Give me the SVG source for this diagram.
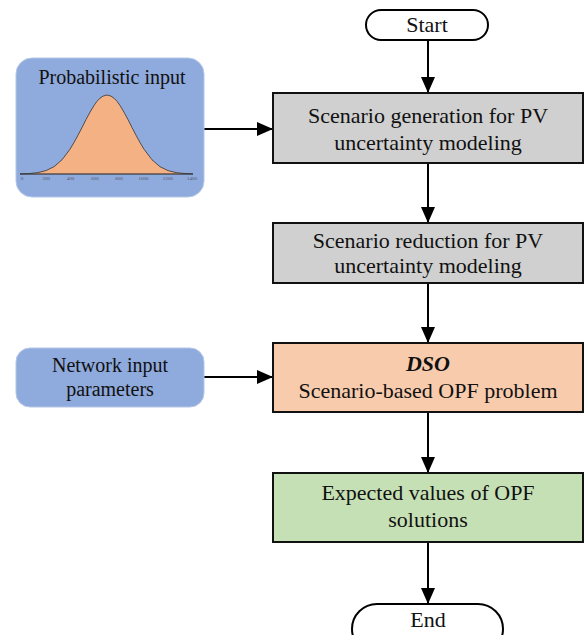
<svg xmlns="http://www.w3.org/2000/svg" width="584" height="635" viewBox="0 0 584 635">
<defs>
<marker id="ah" markerWidth="16" markerHeight="14" refX="16" refY="7" orient="auto" markerUnits="userSpaceOnUse">
<path d="M0,0 L16,7 L0,14 Z" fill="#000"/>
</marker>
<style>
.t{font-family:"Liberation Serif","Times New Roman",serif;font-size:22px;fill:#111;text-anchor:middle}
.s{font-family:"Liberation Serif","Times New Roman",serif;font-size:20px;fill:#111;text-anchor:middle}
.ax{font-family:"Liberation Serif",serif;font-size:5px;fill:#556;text-anchor:middle}
.box{stroke:#111;stroke-width:2}
.pill{fill:#fff;stroke:#000;stroke-width:2}
.blue{fill:#8faadc;stroke:#b4c7e7;stroke-width:1}
.c{fill:none;stroke:#000;stroke-width:2;marker-end:url(#ah)}
</style>
</defs>
<rect width="584" height="635" fill="#fff"/>
<g id="connectors">
<path class="c" d="M428,40 V93"/>
<path class="c" d="M428,163 V223"/>
<path class="c" d="M428,283 V343"/>
<path class="c" d="M428,412 V473"/>
<path class="c" d="M428,542 V604"/>
<path class="c" d="M204,129 H273"/>
<path class="c" d="M204,377 H273"/>
</g>
<g id="start">
<rect class="pill" x="366" y="10" width="122" height="30" rx="15"/>
<text class="t" x="427" y="32">Start</text>
</g>
<g id="prob-input">
<rect class="blue" x="16" y="58" width="188" height="139" rx="16"/>
<text class="s" x="112" y="84">Probabilistic input</text>
<path d="M20,174 L22,173.8 L30,173.5 L38,172.6 L46,170.6 L54,166.7 L62,159.8 L70,149.2 L74,142.5 L78,135.2 L82,127.5 L86,119.6 L90,112.2 L94,105.5 L97,101.3 L100,98.2 L103,96.1 L107,95 L111,96.1 L114,98.2 L117,101.3 L120,105.5 L124,112.2 L128,119.6 L132,127.5 L136,135.2 L140,142.5 L144,149.2 L152,159.8 L160,166.7 L168,170.6 L176,172.6 L184,173.5 L192,173.8 L193,174 Z" fill="#f4b183" stroke="#333" stroke-width="0.8" stroke-linejoin="round"/>
<line x1="20" y1="174" x2="193" y2="174" stroke="#333" stroke-width="0.6"/>
<text class="ax" x="22" y="180">0</text>
<text class="ax" x="46.3" y="180">200</text>
<text class="ax" x="70.6" y="180">400</text>
<text class="ax" x="94.9" y="180">600</text>
<text class="ax" x="119.1" y="180">800</text>
<text class="ax" x="143.4" y="180">1000</text>
<text class="ax" x="167.7" y="180">1200</text>
<text class="ax" x="192" y="180">1400</text>
</g>
<g id="scen-gen">
<rect class="box" x="273" y="93" width="310" height="70" fill="#d0d0d0"/>
<text class="t" x="428" y="123">Scenario generation for PV</text>
<text class="t" x="428" y="150">uncertainty modeling</text>
</g>
<g id="scen-red">
<rect class="box" x="273" y="223" width="310" height="60" fill="#d0d0d0"/>
<text class="t" x="428" y="248">Scenario reduction for PV</text>
<text class="t" x="428" y="273">uncertainty modeling</text>
</g>
<g id="net-input">
<rect class="blue" x="16" y="348" width="188" height="59" rx="14"/>
<text class="s" x="110" y="372">Network input</text>
<text class="s" x="110" y="396">parameters</text>
</g>
<g id="dso">
<rect class="box" x="273" y="343" width="310" height="69" fill="#f8cbad"/>
<text class="t" x="428" y="371" font-weight="bold" font-style="italic">DSO</text>
<text class="t" x="428" y="398">Scenario-based OPF problem</text>
</g>
<g id="expected">
<rect class="box" x="273" y="473" width="310" height="69" fill="#c5e0b4"/>
<text class="t" x="428" y="500">Expected values of OPF</text>
<text class="t" x="428" y="527">solutions</text>
</g>
<g id="end">
<rect class="pill" x="352" y="604" width="151" height="50" rx="25"/>
<text class="t" x="428" y="627">End</text>
</g>
</svg>
